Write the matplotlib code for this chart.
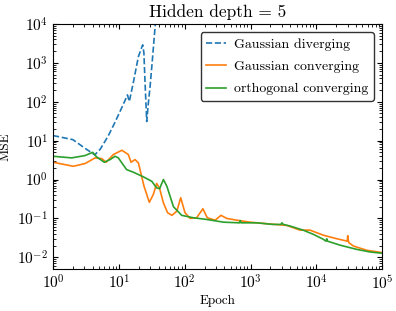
import matplotlib
matplotlib.use('Agg')
import matplotlib.pyplot as plt

# Gaussian diverging
div_epoch = [1, 2.0, 3.0, 4.3, 5.2, 6.8, 8.5, 10.4, 12.0, 13.5, 14.4, 16.5, 19.8, 23.0, 24.0, 25.0, 26.5, 28.0, 29.8, 32.0, 35.5, 38.0]
div_mse = [13.5, 10.6, 6.5, 4.3, 6.0, 12.7, 27, 56, 95, 150, 101, 300, 1450, 2900, 1800, 300, 31, 90, 247, 1000, 8500, 30000]

# Gaussian converging
gc_epoch = [1, 2.03, 3.06, 4.35, 5.5, 6.4, 8.25, 11.1, 13.9, 15.3, 17.6, 19.8, 24.1, 29.0, 33.3, 37.5, 41.5, 47.5, 55, 64, 76, 87, 101, 121, 152, 189, 220, 290, 356, 435,
            620, 985, 1970, 3550, 5650, 8000, 12800, 20500, 29500, 30000, 31000, 36600, 58000, 100000]
gc_mse = [2.78, 2.19, 2.57, 3.6, 3.45, 2.78, 4.4, 5.65, 4.4, 2.78, 3.26, 2.67, 0.67, 0.26, 0.41, 0.79, 0.6, 0.25, 0.14, 0.12, 0.154, 0.34, 0.14, 0.1, 0.104, 0.177, 0.104, 0.09, 0.12, 0.1,
          0.09, 0.08, 0.072, 0.066, 0.05, 0.05, 0.037, 0.03, 0.026, 0.036, 0.024, 0.0195, 0.0152, 0.0132]

# orthogonal converging
oc_epoch = [1, 1.92, 3.06, 4.0, 4.6, 6.0, 7.35, 8.75, 9.8, 13.1, 16.6, 23.6, 31.6, 37.5, 41.5, 47.5, 53.6, 67.5, 90, 135, 216, 390, 680, 700, 720,
            1240, 2200, 2900, 3000, 3150, 3950, 6300, 9000, 12800, 14000, 14400, 14800, 23000, 41000, 66000, 100000]
oc_mse = [3.96, 3.6, 4.13, 5.0, 3.8, 2.78, 3.26, 3.96, 3.6, 1.8, 1.54, 1.17, 0.9, 0.61, 0.58, 1.0, 0.67, 0.2, 0.12, 0.104, 0.094, 0.08, 0.077, 0.088, 0.077,
          0.077, 0.07, 0.07, 0.077, 0.07, 0.064, 0.05, 0.039, 0.029, 0.026, 0.03, 0.026, 0.0205, 0.016, 0.0137, 0.0127]

plt.rcParams['font.family'] = 'serif'
plt.rcParams['font.serif'] = ['cmr10']
plt.rcParams['mathtext.fontset'] = 'cm'
plt.rcParams['axes.formatter.use_mathtext'] = True

fig = plt.figure(figsize=(3.96, 3.11), dpi=100)
ax = fig.add_axes([0.134, 0.135, 0.831, 0.788])

ax.plot(div_epoch, div_mse, '--', color='C0', lw=1.2, label='Gaussian diverging')
ax.plot(gc_epoch, gc_mse, '-', color='C1', lw=1.2, label='Gaussian converging')
ax.plot(oc_epoch, oc_mse, '-', color='C2', lw=1.2, label='orthogonal converging')

ax.set_xscale('log')
ax.set_yscale('log')
ax.set_xlim(1, 1e5)
ax.set_ylim(5e-3, 1e4)
ax.set_xlabel('Epoch', fontsize=9.5, labelpad=2)
ax.set_ylabel('MSE', fontsize=9.5)
ax.set_title('Hidden depth = 5', fontsize=12.5, pad=5)
ax.tick_params(which='both', direction='in', top=True, right=True, labelsize=11)
leg = ax.legend(loc='upper right', fontsize=10, fancybox=True, framealpha=1, edgecolor='0.2',
                handlelength=1.4, handletextpad=0.6, labelspacing=0.7, borderaxespad=0.6)

fig.savefig('out.png', dpi=100)
